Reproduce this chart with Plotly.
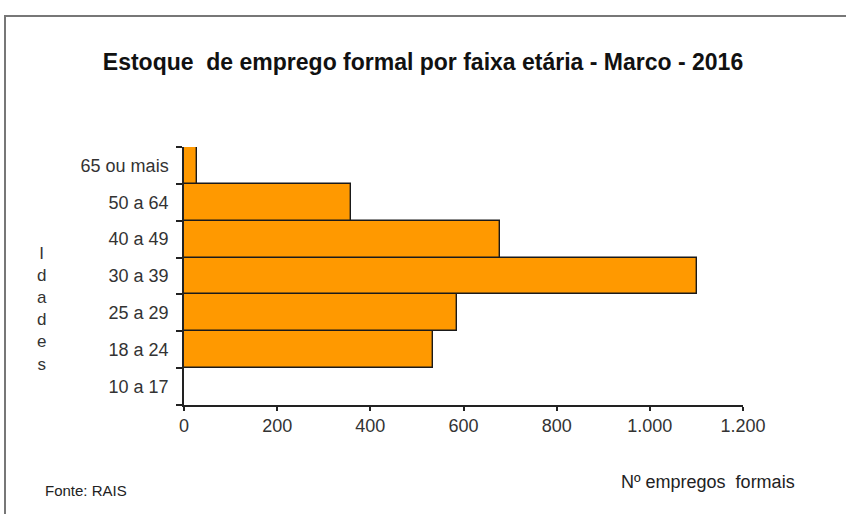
import plotly.graph_objects as go

categorias = ["10 a 17", "18 a 24", "25 a 29", "30 a 39", "40 a 49", "50 a 64", "65 ou mais"]
empregos = [0, 535, 586, 1101, 678, 358, 28]
x_ticks = [0, 200, 400, 600, 800, 1000, 1200]

W, H = 846, 514
L, R, T, B = 184, 846 - 743, 147, 514 - 405
pw, ph = W - L - R, H - T - B

def px(x):
    return (x - L) / pw

def py(y):
    return (H - B - y) / ph

fig = go.Figure(go.Bar(
    y=categorias, x=empregos, orientation="h",
    marker=dict(color="#FF9900", line=dict(color="#1a1a1a", width=1.4)),
    hoverinfo="x+y",
))

font = "Liberation Sans, Arial, sans-serif"

fig.update_layout(
    width=W, height=H,
    margin=dict(l=L, r=R, t=T, b=B, autoexpand=False),
    paper_bgcolor="white", plot_bgcolor="white",
    bargap=0, showlegend=False,
    separators=",.",
    font=dict(family=font, color="#222222", size=16),
    title=dict(text="<b>Estoque  de emprego formal por faixa etária - Marco - 2016</b>",
               x=0.5, xanchor="center", y=1 - 62 / H, yanchor="middle",
               font=dict(size=23, color="#111111", family=font)),
    xaxis=dict(range=[0, 1200], tickvals=x_ticks, tickformat=",", showgrid=False,
               zeroline=False, showline=True, linecolor="#222222", linewidth=1.5,
               ticks="outside", ticklen=4, tickcolor="#222222", tickwidth=1.5,
               tickfont=dict(size=18, color="#333333"), fixedrange=True),
    yaxis=dict(type="category", categoryorder="array", categoryarray=categorias,
               showgrid=False, zeroline=False, showline=True, linecolor="#222222",
               linewidth=1.5, ticks="outside", tickson="boundaries", ticklen=6,
               tickcolor="#222222", tickwidth=1.5, ticklabelstandoff=10,
               tickfont=dict(size=18, color="#333333"), fixedrange=True),
    annotations=[
        dict(text="I<br>d<br>a<br>d<br>e<br>s", x=px(42), y=py(309), xref="paper", yref="paper",
             xanchor="center", yanchor="middle", showarrow=False,
             font=dict(size=17, color="#333333")),
        dict(text="Fonte: RAIS", x=px(43), y=py(490), xref="paper", yref="paper",
             xanchor="left", yanchor="middle", showarrow=False,
             font=dict(size=15, color="#222222")),
        dict(text="Nº empregos  formais", x=px(797), y=py(482), xref="paper", yref="paper",
             xanchor="right", yanchor="middle", showarrow=False,
             font=dict(size=18, color="#222222")),
    ],
    shapes=[
        dict(type="path", xref="paper", yref="paper",
             path=f"M {px(5)} {py(520)} L {px(5)} {py(16)} L {px(850)} {py(16)}",
             line=dict(color="#777777", width=2)),
    ],
)

fig.write_html("out.html", config={"displayModeBar": False},
               post_script="document.body.style.margin='0';")
